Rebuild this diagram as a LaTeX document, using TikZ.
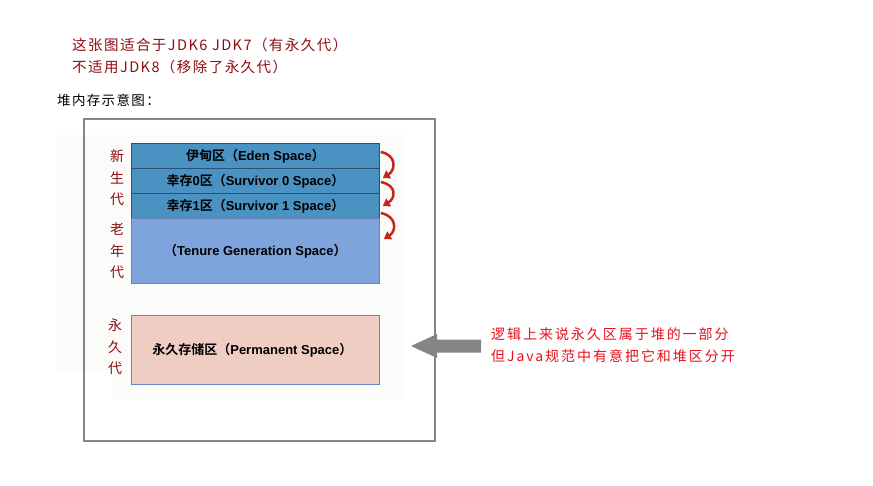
\documentclass[tikz,border=0pt]{standalone}
\usepackage{fontspec}
\usetikzlibrary{arrows.meta}
\newfontfamily\cjk{Noto Sans CJK SC}[BoldFont={Noto Sans CJK SC Bold}]
\newfontfamily\lat{Liberation Sans}
\newfontfamily\cjksp{Noto Sans CJK SC}[LetterSpace=10,BoldFont={Noto Sans CJK SC Bold}]
\newfontfamily\cjkspw{Noto Sans CJK SC}[LetterSpace=14,BoldFont={Noto Sans CJK SC Bold}]
\newcommand\ltn[1]{{\lat\bfseries #1}}
\definecolor{titlered}{HTML}{8E0E12}
\definecolor{notered}{HTML}{E8101C}
\definecolor{youngblue}{HTML}{4A92C2}
\definecolor{youngline}{HTML}{2F4F72}
\definecolor{tenureblue}{HTML}{7FA3DC}
\definecolor{permfill}{HTML}{F0CDC3}
\definecolor{permline}{HTML}{6784BE}
\definecolor{arrowred}{HTML}{C8261C}
\definecolor{faint}{HTML}{FBFBF9}
\definecolor{framegray}{HTML}{858585}
\tikzset{
  titletext/.style={anchor=west,inner sep=0,text=titlered,font=\cjksp\fontsize{14.5}{14.5}\selectfont},
  gentext/.style={inner sep=0,align=center,text=titlered,font=\cjk\fontsize{14}{21.5}\selectfont},
  area/.style={draw=youngline,line width=0.8pt,minimum width=248pt,inner sep=0,font=\cjk\bfseries\fontsize{13}{13}\selectfont},
  young/.style={area,fill=youngblue,minimum height=25pt},
  moveto/.style={draw=arrowred,line width=2.5pt,-{Triangle[length=7pt,width=9pt]}},
}
\begin{document}
\begin{tikzpicture}[x=1pt,y=-1pt]
\useasboundingbox[fill=white] (0,0) rectangle (873,485);
% faint background patches
\fill[faint] (57,135) rectangle (405,370);
\fill[faint] (113,313) rectangle (405,400);
\fill[white] (84,119) rectangle (150,133);
% titles
\node[titletext] (t1) at (72,45) {这张图适合于JDK6 JDK7（有永久代）};
\node[titletext] (t2) at (72,67) {不适用JDK8（移除了永久代）};
\node[anchor=west,inner sep=0,font=\cjksp\fontsize{13.5}{13.5}\selectfont] (heap) at (57,100) {堆内存示意图：};
% spaces
\node[young,anchor=north west] (eden) at (131,143) {伊甸区（\ltn{Eden Space}）};
\node[young,anchor=north west] (s0) at (131,168) {幸存\ltn{0}区（\ltn{Survivor 0 Space}）};
\node[young,anchor=north west] (s1) at (131,193) {幸存\ltn{1}区（\ltn{Survivor 1 Space}）};
\node[area,draw=tenureblue!80!black,fill=tenureblue,minimum height=65pt,anchor=north west] (tenure) at (131,218) {（\ltn{Tenure Generation Space}）};
\node[area,draw=permline,fill=permfill,minimum height=69pt,anchor=north west] (perm) at (131,315) {\hspace*{-6pt}永久存储区（\ltn{Permanent Space}）};
% generation labels
\node[gentext] (young) at (117,178) {新\\生\\代};
\node[gentext] (old) at (117,251) {老\\年\\代};
\node[gentext] (permg) at (115,347) {永\\久\\代};
% red curved arrows
\draw[moveto] (eden.north east) ++(1,9) coordinate (a1s) .. controls +(16,3) and +(13,-8) .. ++(2,26) coordinate (a1e);
\draw[moveto] (s0.north east) ++(1,14) coordinate (a2s) .. controls +(16,3) and +(13,-8) .. ++(2,24) coordinate (a2e);
\draw[moveto] (s1.north east) ++(1,20) coordinate (a3s) .. controls +(16,3) and +(13,-8) .. ++(3,26) coordinate (a3e);
% gray arrow
\coordinate (gtip) at (411,346);
\fill[framegray] (gtip) -- (437,334) -- (437,339.5) -- (481,339.5) -- (481,352.5) -- (437,352.5) -- (437,358) -- cycle;
% frame
\draw[framegray,line width=2.4pt] (84,119) rectangle (435,441);
% note
\node[anchor=west,inner sep=0,align=left,text=notered,font=\cjkspw\fontsize{14}{22}\selectfont] (note) at (491,345) {逻辑上来说永久区属于堆的一部分\\但Java规范中有意把它和堆区分开};
\end{tikzpicture}
\end{document}
